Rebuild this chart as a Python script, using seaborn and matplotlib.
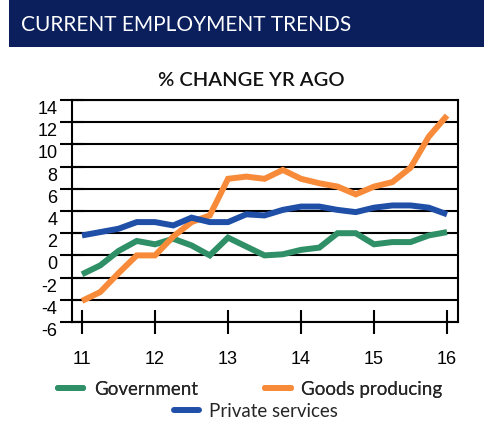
import matplotlib
matplotlib.use("Agg")
import matplotlib.pyplot as plt
import seaborn as sns
import pandas as pd
import numpy as np
from matplotlib.patches import Rectangle
from matplotlib.lines import Line2D

# ---- data (quarterly, year labels 11..16) ----
quarters = [11.0, 11.25, 11.5, 11.75, 12.0, 12.25, 12.5, 12.75, 13.0, 13.25, 13.5,
            13.75, 14.0, 14.25, 14.5, 14.75, 15.0, 15.25, 15.5, 15.75, 16.0]
government = [-1.7, -0.9, 0.4, 1.3, 1.0, 1.5, 0.9, 0.0, 1.6, 0.8, 0.0,
              0.1, 0.5, 0.7, 2.0, 2.0, 1.0, 1.2, 1.2, 1.8, 2.1]
goods_producing = [-4.1, -3.3, -1.6, 0.0, 0.0, 1.7, 3.0, 3.6, 6.9, 7.1, 6.9,
                   7.7, 6.9, 6.5, 6.2, 5.5, 6.2, 6.6, 7.9, 10.7, 12.6]
private_services = [1.8, 2.1, 2.4, 3.0, 3.0, 2.7, 3.4, 3.0, 3.0, 3.7, 3.6,
                    4.1, 4.4, 4.4, 4.1, 3.9, 4.3, 4.5, 4.5, 4.3, 3.7]
series_names = ["Government", "Goods producing", "Private services"]
x_tick_values = [11, 12, 13, 14, 15, 16]
x_tick_labels = ["11", "12", "13", "14", "15", "16"]
y_tick_values = [14, 12, 10, 8, 6, 4, 2, 0, -2, -4, -6]
y_tick_labels = ["14", "12", "10", "8", "6", "4", "2", "0", "-2", "-4", "-6"]
colors = {"Government": "#2f8f66", "Goods producing": "#f78b3a", "Private services": "#1f4fa6"}

df = pd.concat([
    pd.DataFrame({"q": quarters, "value": government, "series": "Government"}),
    pd.DataFrame({"q": quarters, "value": goods_producing, "series": "Goods producing"}),
    pd.DataFrame({"q": quarters, "value": private_services, "series": "Private services"}),
])

sns.set_theme(style="white")
plt.rcParams["font.family"] = ["Liberation Sans", "DejaVu Sans"]

fig = plt.figure(figsize=(4.84, 4.27), dpi=100)
ax = fig.add_axes([72/484, 1-323/427, (458-72)/484, (323-101)/427])

# header band
fig.patches.append(Rectangle((9/484, 1-48/427), 1-9/484, 48/427, transform=fig.transFigure,
                             facecolor="#0b1f5c", edgecolor="none", zorder=0))
fig.text(21/484, 1-25/427, "CURRENT EMPLOYMENT TRENDS", color="white",
         fontsize=15, family=["Lato", "DejaVu Sans"], fontweight="normal",
         va="center", ha="left")
fig.text(251/484, 1-80/427, "% CHANGE YR AGO", color="#111111",
         fontsize=14.5, family=["Lato", "DejaVu Sans"], fontweight="semibold",
         va="center", ha="center")

# gridlines
for yv in y_tick_values:
    ax.axhline(yv, color="black", lw=1.5, zorder=1)

sns.lineplot(data=df, x="q", y="value", hue="series", hue_order=series_names,
             palette=colors, lw=4.3, ax=ax, legend=False, zorder=3,
             solid_joinstyle="miter", solid_capstyle="butt")

ax.set_xlim(10.863, 16.15)
ax.set_ylim(-6, 14)
ax.set_xticks(x_tick_values)
ax.set_xticklabels(x_tick_labels)
ax.set_yticks(y_tick_values)
ax.set_yticklabels(y_tick_labels)
ax.set_xlabel("")
ax.set_ylabel("")
for sp in ax.spines.values():
    sp.set_visible(True)
    sp.set_color("black")
    sp.set_linewidth(1.5)
ax.tick_params(axis="x", direction="inout", length=17, width=1.5, color="black",
               labelsize=13, pad=12, labelcolor="black", bottom=True)
ax.tick_params(axis="y", direction="inout", length=17, width=1.5, color="black",
               labelsize=13, pad=2, labelcolor="black", left=True)
for lab in ax.get_yticklabels():
    lab.set_va("top")

# legend
h = [Line2D([], [], color=colors[n], lw=4.3) for n in series_names]
leg_font = {"family": ["Lato", "DejaVu Sans"], "size": 13.5}
leg1 = fig.legend(h[:2], series_names[:2], ncol=2, loc="center",
                  bbox_to_anchor=(250/484, 1-390/427), frameon=False,
                  prop=leg_font, handlelength=1.35, handletextpad=0.55,
                  columnspacing=3.6, borderpad=0, borderaxespad=0)
fig.add_artist(leg1)
leg2 = fig.legend(h[2:], series_names[2:], loc="center",
                  bbox_to_anchor=(256/484, 1-412/427), frameon=False,
                  prop=leg_font, handlelength=1.35, handletextpad=0.55,
                  borderpad=0, borderaxespad=0)

fig.savefig("out.png", dpi=100)
